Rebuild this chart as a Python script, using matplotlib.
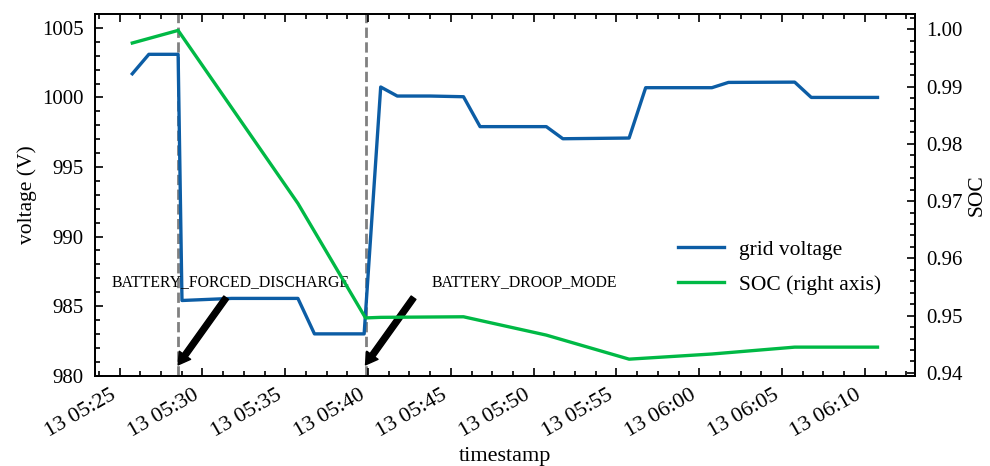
import matplotlib
matplotlib.use("Agg")
import matplotlib.pyplot as plt
import matplotlib.dates as mdates
from matplotlib.ticker import AutoMinorLocator, MultipleLocator, FormatStrFormatter
import pandas as pd

plt.rcParams["font.family"] = ["Liberation Serif", "DejaVu Serif"]

# grid voltage samples
voltage_time = [
    "2024-01-13 05:25:46", "2024-01-13 05:26:46", "2024-01-13 05:28:32",
    "2024-01-13 05:28:46", "2024-01-13 05:31:46", "2024-01-13 05:35:46",
    "2024-01-13 05:36:46", "2024-01-13 05:39:46", "2024-01-13 05:40:46",
    "2024-01-13 05:41:46", "2024-01-13 05:43:46", "2024-01-13 05:45:46",
    "2024-01-13 05:46:46", "2024-01-13 05:50:46", "2024-01-13 05:51:46",
    "2024-01-13 05:55:46", "2024-01-13 05:56:46", "2024-01-13 06:00:46",
    "2024-01-13 06:01:46", "2024-01-13 06:05:46", "2024-01-13 06:06:46",
    "2024-01-13 06:10:46",
]
voltage = [
    1001.7, 1003.1, 1003.1, 985.4, 985.55, 985.55, 983.0, 983.0, 1000.75,
    1000.1, 1000.1, 1000.05, 997.9, 997.9, 997.03, 997.08, 1000.7, 1000.7,
    1001.08, 1001.1, 1000.0, 1000.0,
]

# battery state of charge samples
soc_time = [
    "2024-01-13 05:25:46", "2024-01-13 05:28:32", "2024-01-13 05:35:46",
    "2024-01-13 05:39:51", "2024-01-13 05:40:46", "2024-01-13 05:45:46",
    "2024-01-13 05:50:46", "2024-01-13 05:55:46", "2024-01-13 06:00:46",
    "2024-01-13 06:05:46", "2024-01-13 06:10:46",
]
soc = [
    0.9976, 0.9998, 0.9696, 0.9496, 0.9497, 0.9498, 0.9466, 0.9424, 0.9433,
    0.9445, 0.9445,
]

# operating-mode events
event_time = ["2024-01-13 05:28:32", "2024-01-13 05:39:51"]
event_label = ["BATTERY_FORCED_DISCHARGE", "BATTERY_DROOP_MODE"]

vt = pd.to_datetime(voltage_time)
st = pd.to_datetime(soc_time)
et = pd.to_datetime(event_time)

blue = "#0C5DA5"
green = "#00B945"

fig = plt.figure(figsize=(9.9, 4.66), dpi=100)
ax = fig.add_axes([0.096, 0.194, 0.828, 0.776])
ax2 = ax.twinx()

l1, = ax.plot(vt, voltage, color=blue, lw=2.4, label="grid voltage")
l2, = ax2.plot(st, soc, color=green, lw=2.4, label="SOC (right axis)")

for t in et:
    ax.axvline(t, color="gray", ls="--", lw=2.0, zorder=1)

minute = pd.Timedelta(minutes=1)
text_x = [et[0] - 4.0 * minute, et[1] + 4.0 * minute]
for t, lab, tx in zip(et, event_label, text_x):
    ax.annotate("", xy=(t, 980.77), xytext=(t + 2.9 * minute, 985.6),
                arrowprops=dict(facecolor="black", edgecolor="black",
                                width=4.2, headwidth=10, headlength=8.5,
                                shrink=0.0))
    ax.text(tx, 986.45, lab, fontsize=11.3, ha="left", va="baseline")

ax.set_ylim(980, 1006)
ax.yaxis.set_major_locator(MultipleLocator(5))
ax.yaxis.set_minor_locator(MultipleLocator(1))
ax2.yaxis.set_major_locator(MultipleLocator(0.01))
ax2.yaxis.set_minor_locator(MultipleLocator(0.002))
ax2.yaxis.set_major_formatter(FormatStrFormatter("%.2f"))

ax.xaxis.set_major_locator(mdates.MinuteLocator(byminute=range(0, 60, 5)))
ax.xaxis.set_major_formatter(mdates.DateFormatter("%d %H:%M"))
ax.xaxis.set_minor_locator(AutoMinorLocator(4))

ax.tick_params(axis="both", which="both", direction="in", width=1.2,
               labelsize=15)
ax.tick_params(axis="x", which="both", top=True, bottom=True, labelsize=16)
ax.tick_params(axis="y", which="both", left=True, right=False, pad=8)
ax.tick_params(axis="x", pad=7)
ax.tick_params(which="major", length=6)
ax.tick_params(which="minor", length=3.5)
ax2.tick_params(axis="y", which="both", direction="in", width=1.2,
                labelsize=15, pad=8)
ax2.tick_params(which="major", length=6)
ax2.tick_params(which="minor", length=3.5)

for a in (ax, ax2):
    for s in a.spines.values():
        s.set_linewidth(1.3)

plt.setp(ax.get_xticklabels(), rotation=30, ha="right")

ax.set_ylabel("voltage (V)", fontsize=15.5)
ax2.set_ylabel("SOC", fontsize=15.5)
ax.set_xlabel("timestamp", fontsize=16)

ax.legend([l1, l2], [l1.get_label(), l2.get_label()], loc="center left",
          bbox_to_anchor=(0.688, 0.300), frameon=False, fontsize=15.5,
          handlelength=2.1, handletextpad=0.7, labelspacing=0.7)

fig.savefig("out.png", dpi=100)
